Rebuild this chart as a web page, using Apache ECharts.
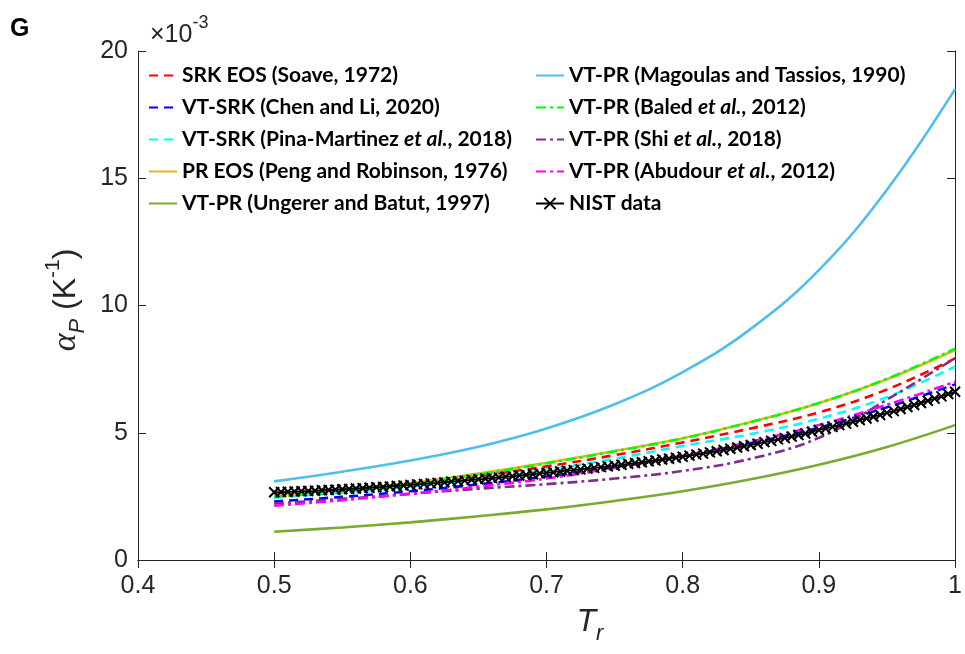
<!DOCTYPE html>
<html>
<head>
<meta charset="utf-8">
<script src="https://cdn.jsdelivr.net/npm/echarts@6/dist/echarts.min.js"></script>
<style>
  html, body { margin: 0; padding: 0; background: #fff; }
  #chart { width: 965px; height: 654px; }
</style>
</head>
<body>
<div id="chart"></div>
<script>
// Reduced temperature grid for the EOS model curves
const trModel = [0.50, 0.55, 0.60, 0.65, 0.70, 0.75, 0.80, 0.85, 0.90, 0.95, 1.00];

// Isobaric expansivity, units of 1e-3 K^-1
const srkSoave      = [2.55, 2.72, 2.95, 3.30, 3.68, 4.12, 4.62, 5.17, 5.80, 6.70, 7.92];
const vtSrkChen     = [2.30, 2.48, 2.70, 2.97, 3.28, 3.65, 4.08, 4.60, 5.20, 6.00, 6.90];
const vtSrkPina     = [2.45, 2.65, 2.88, 3.18, 3.54, 3.98, 4.48, 4.95, 5.55, 6.40, 7.60];
const prPeng        = [2.55, 2.76, 3.02, 3.40, 3.82, 4.28, 4.78, 5.42, 6.16, 7.10, 8.25];
const vtPrUngerer   = [1.11, 1.28, 1.48, 1.72, 1.99, 2.32, 2.70, 3.17, 3.74, 4.44, 5.30];
const vtPrMagoulas  = [3.09, 3.47, 3.91, 4.45, 5.17, 6.12, 7.38, 9.08, 11.39, 14.55, 18.50];
const vtPrBaled     = [2.48, 2.70, 2.98, 3.36, 3.80, 4.27, 4.78, 5.42, 6.17, 7.12, 8.30];
const vtPrShi       = [2.22, 2.40, 2.60, 2.80, 2.98, 3.20, 3.50, 3.98, 4.80, 6.30, 7.93];
const vtPrAbudour   = [2.13, 2.35, 2.60, 2.88, 3.20, 3.62, 4.10, 4.65, 5.30, 6.10, 7.00];

// NIST reference values, Tr = 0.500 ... 1.000 in steps of 0.005
const nistAlpha = [
  2.66, 2.67, 2.68, 2.69, 2.70, 2.71, 2.72, 2.74, 2.75, 2.76,
  2.78, 2.79, 2.81, 2.82, 2.84, 2.86, 2.87, 2.89, 2.91, 2.93,
  2.95, 2.97, 2.99, 3.01, 3.03, 3.05, 3.08, 3.10, 3.12, 3.15,
  3.17, 3.19, 3.22, 3.24, 3.27, 3.29, 3.32, 3.34, 3.37, 3.40,
  3.42, 3.45, 3.48, 3.51, 3.53, 3.56, 3.59, 3.62, 3.65, 3.68,
  3.71, 3.74, 3.78, 3.81, 3.84, 3.88, 3.91, 3.95, 3.98, 4.02,
  4.06, 4.10, 4.14, 4.18, 4.23, 4.27, 4.32, 4.37, 4.42, 4.47,
  4.52, 4.57, 4.63, 4.68, 4.74, 4.79, 4.85, 4.91, 4.97, 5.04,
  5.11, 5.17, 5.23, 5.30, 5.36, 5.43, 5.50, 5.56, 5.63, 5.70,
  5.78, 5.85, 5.93, 6.01, 6.09, 6.17, 6.26, 6.34, 6.43, 6.52,
  6.61
];
const trNist = nistAlpha.map((_, i) => +(0.5 + i * 0.005).toFixed(3));

// Axis tick labels
const xTickLabels = ['0.4', '0.5', '0.6', '0.7', '0.8', '0.9', '1'];
const yTickLabels = ['0', '5', '10', '15', '20'];

const legendLeftNames = [
  'SRK EOS (Soave, 1972)',
  'VT-SRK (Chen and Li, 2020)',
  'VT-SRK (Pina-Martinez et al., 2018)',
  'PR EOS (Peng and Robinson, 1976)',
  'VT-PR (Ungerer and Batut, 1997)'
];
const legendRightNames = [
  'VT-PR (Magoulas and Tassios, 1990)',
  'VT-PR (Baled et al., 2012)',
  'VT-PR (Shi et al., 2018)',
  'VT-PR (Abudour et al., 2012)',
  'NIST data'
];

const pair = (xs, ys) => xs.map((x, i) => [x, ys[i]]);

const DASH = [9, 6];
const DASHDOT = [10, 4, 3, 4];

function model(name, values, color, dash, width) {
  return {
    name: name,
    type: 'line',
    data: pair(trModel, values),
    smooth: 0.4,
    symbol: 'none',
    lineStyle: { color: color, width: width || 2.6, type: dash || 'solid' },
    itemStyle: { color: color },
    emphasis: { disabled: true },
    animation: false,
    z: 2
  };
}

const series = [
  model(legendLeftNames[0], srkSoave, '#FF0000', DASH),
  model(legendLeftNames[1], vtSrkChen, '#0000FF', DASH),
  model(legendLeftNames[2], vtSrkPina, '#00FFFF', DASH),
  model(legendLeftNames[3], prPeng, '#EDB120'),
  model(legendLeftNames[4], vtPrUngerer, '#77AC30'),
  model(legendRightNames[0], vtPrMagoulas, '#4DBEEE', null, 2.6),
  model(legendRightNames[1], vtPrBaled, '#00FF00', DASHDOT),
  model(legendRightNames[2], vtPrShi, '#7E2F8E', DASHDOT),
  model(legendRightNames[3], vtPrAbudour, '#FF00FF', DASHDOT),
  {
    name: legendRightNames[4],
    type: 'line',
    data: pair(trNist, nistAlpha),
    symbol: 'path://M0,0L10,10M0,10L10,0',
    symbolSize: 10,
    showAllSymbol: true,
    lineStyle: { color: '#000', width: 1.8 },
    itemStyle: { color: 'rgba(0,0,0,0)', borderColor: '#000', borderWidth: 2 },
    emphasis: { disabled: true },
    animation: false,
    z: 3
  }
];

const legendText = {
  rich: {
    b: { fontFamily: 'Lato', fontWeight: 'bold', fontSize: 21, color: '#000', lineHeight: 20 },
    i: { fontFamily: 'Lato', fontWeight: 'bold', fontStyle: 'italic', fontSize: 21, color: '#000', lineHeight: 20 }
  }
};
function legendFormatter(name) {
  const k = name.indexOf('et al.');
  if (k < 0) return '{b|' + name + '}';
  return '{b|' + name.slice(0, k) + '}{i|et al.}{b|' + name.slice(k + 6) + '}';
}
// Legend entries show the line only; NIST keeps its cross marker
function legendItems(names) {
  return names.map((n) => n === 'NIST data'
    ? { name: n }
    : { name: n, itemStyle: { color: 'rgba(0,0,0,0)', borderWidth: 0, opacity: 0 } });
}
function legend(names, left) {
  return {
    data: legendItems(names),
    orient: 'vertical',
    left: left,
    top: 60,
    itemWidth: 28,
    itemHeight: 14,
    itemGap: 11,
    selectedMode: false,
    formatter: legendFormatter,
    textStyle: legendText
  };
}

const axisColor = '#262626';
const tickFont = { fontFamily: 'Liberation Sans', fontSize: 25, color: axisColor };

const chart = echarts.init(document.getElementById('chart'), null, { renderer: 'canvas' });
chart.setOption({
  backgroundColor: '#fff',
  animation: false,
  grid: { left: 138, right: 8, top: 51, bottom: 94, containLabel: false },
  legend: [legend(legendLeftNames, 143), legend(legendRightNames, 530)],
  xAxis: [
    {
      type: 'value', min: 0.4, max: 1, interval: 0.1,
      axisLine: { lineStyle: { color: axisColor, width: 1 } },
      axisTick: { inside: true, length: 8, lineStyle: { color: axisColor } },
      splitLine: { show: false },
      axisLabel: Object.assign({ margin: 14, formatter: (v) => xTickLabels[Math.round((v - 0.4) * 10)] }, tickFont)
    },
    {
      type: 'value', min: 0.4, max: 1, interval: 0.1, position: 'top',
      axisLine: { lineStyle: { color: axisColor, width: 1 } },
      axisTick: { inside: true, length: 8, lineStyle: { color: axisColor } },
      splitLine: { show: false },
      axisLabel: { show: false }
    }
  ],
  yAxis: [
    {
      type: 'value', min: 0, max: 20, interval: 5,
      axisLine: { show: true, lineStyle: { color: axisColor, width: 1 } },
      axisTick: { show: true, inside: true, length: 8, lineStyle: { color: axisColor } },
      splitLine: { show: false },
      axisLabel: Object.assign({ margin: 10, formatter: (v) => yTickLabels[Math.round(v / 5)] }, tickFont)
    },
    {
      type: 'value', min: 0, max: 20, interval: 5, position: 'right',
      axisLine: { show: true, lineStyle: { color: axisColor, width: 1 } },
      axisTick: { show: true, inside: true, length: 8, lineStyle: { color: axisColor } },
      splitLine: { show: false },
      axisLabel: { show: false }
    }
  ],
  graphic: [
    {
      type: 'text', left: 10, top: 17,
      style: { text: 'G', fontFamily: 'Liberation Sans', fontWeight: 'bold', fontSize: 25, fill: '#000' }
    },
    {
      type: 'text', left: 150, top: 14,
      style: {
        text: '{m|×10}{s|-3}',
        rich: {
          m: { fontFamily: 'Liberation Sans', fontSize: 25, fill: axisColor, lineHeight: 34, verticalAlign: 'bottom' },
          s: { fontFamily: 'Liberation Sans', fontSize: 18, fill: axisColor, lineHeight: 20, verticalAlign: 'top' }
        }
      }
    },
    {
      type: 'text', x: 66, y: 300, rotation: Math.PI / 2,
      style: {
        text: '{a|α}{p|P}{n| (K}{s|-1}{n|)}',
        align: 'center', verticalAlign: 'middle',
        rich: {
          a: { fontFamily: 'Liberation Serif', fontStyle: 'italic', fontSize: 34, fill: axisColor, lineHeight: 46, verticalAlign: 'middle' },
          p: { fontFamily: 'Liberation Sans', fontStyle: 'italic', fontSize: 22, fill: axisColor, lineHeight: 26, verticalAlign: 'bottom' },
          n: { fontFamily: 'Liberation Sans', fontSize: 32, fill: axisColor, lineHeight: 46, verticalAlign: 'middle' },
          s: { fontFamily: 'Liberation Sans', fontSize: 21, fill: axisColor, lineHeight: 24, verticalAlign: 'top' }
        }
      }
    },
    {
      type: 'text', x: 590, y: 622,
      style: {
        text: '{t|T}{r|r}',
        align: 'center', verticalAlign: 'middle',
        rich: {
          t: { fontFamily: 'Liberation Sans', fontStyle: 'italic', fontSize: 32, fill: axisColor, lineHeight: 46, verticalAlign: 'middle' },
          r: { fontFamily: 'Liberation Sans', fontStyle: 'italic', fontSize: 22, fill: axisColor, lineHeight: 24, verticalAlign: 'bottom' }
        }
      }
    }
  ],
  series: series
});
</script>
</body>
</html>
